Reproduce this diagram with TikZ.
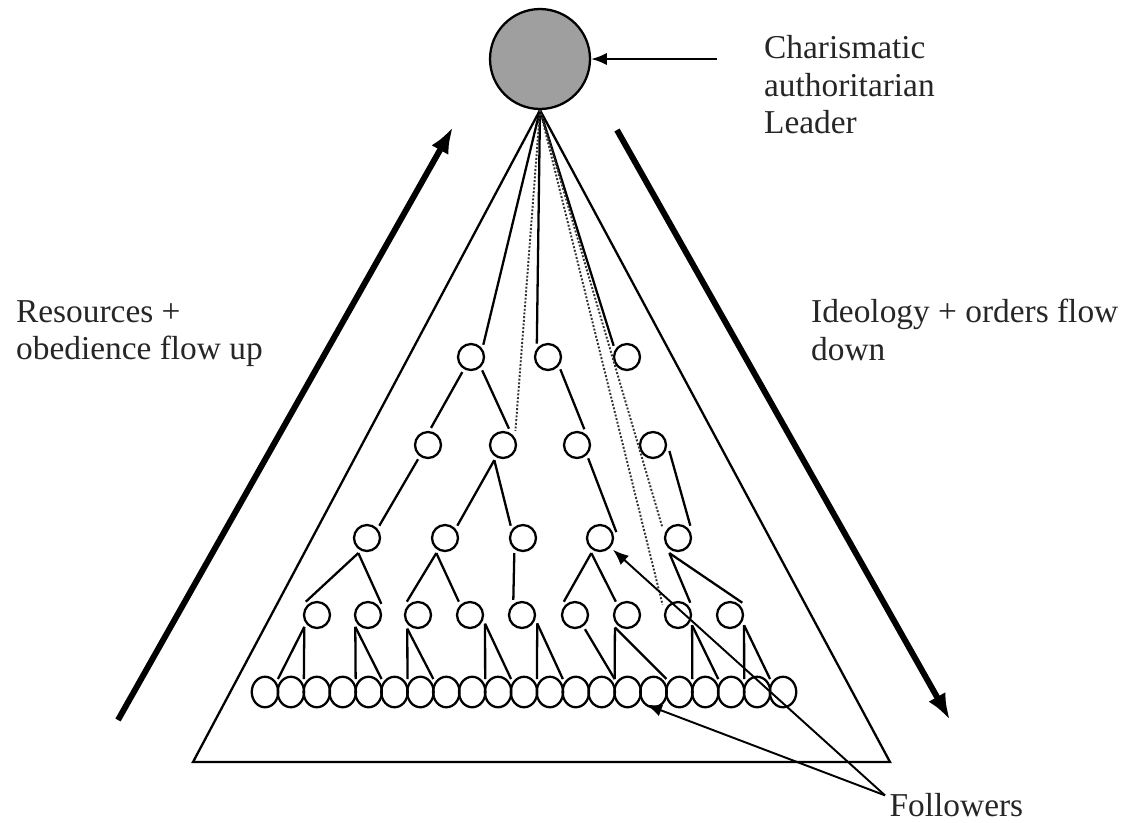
\documentclass[tikz,border=0pt]{standalone}
\usepackage{fontspec}
\setmainfont{Liberation Serif}
\usetikzlibrary{arrows.meta,shapes.geometric}

\begin{document}
\begin{tikzpicture}
      [x=0.02cm, y=-0.02cm,
      line width=1.3pt,
      leader style/.style={draw, circle, minimum size=2cm, inner sep=0pt, fill=gray!75},
      member style/.style={draw, circle, minimum size=0.52cm, inner sep=0pt, outer sep=2.5pt},
      follower style/.style={draw, ellipse, minimum width=0.53cm, minimum height=0.61cm, inner sep=0pt, outer sep=0pt},
      hidden tie/.style={densely dotted, line width=1.1pt, black!80, shorten >=1pt},
      pointer/.style={-{Latex[length=9pt, width=7pt]}, line width=1.1pt},
      flow/.style={-{Latex[length=15pt, width=11pt]}, line width=3.4pt},
      note style/.style={align=left, inner sep=0pt, anchor=north west, text=black!85, font=\fontsize{19}{21.5}\selectfont}
      ]
    \useasboundingbox (0,0) rectangle (1135,822);

    % leader and texts
    \node[leader style] (leader) at (540,59) {};
    \node[note style] (chief) at (763,34) {Charismatic\\authoritarian\\Leader};
    \node[note style] (upflow) at (15,299) {Resources +\\obedience flow up};
    \node[note style] (downflow) at (810,298) {Ideology + orders flow\\down};
    \node[note style, inner sep=2pt] (flock) at (885,789) {Followers};
    \coordinate (chieftail) at (717,59);
    \draw[pointer] (chieftail) -- (leader.east);

    % flows
    \draw[flow] (118,720) -- (453,127);
    \draw[flow] (617,130) -- (950,720);

    % the pyramid
    \coordinate (baseL) at (193,762);
    \coordinate (baseR) at (890,762);
    \draw (leader.south) -- (baseL) -- (baseR) -- cycle;

    % ranks
    \node[member style] (l1a) at (471,357) {};
    \node[member style] (l1b) at (548,357) {};
    \node[member style] (l1c) at (627,357) {};
    \node[member style] (l2a) at (428,445) {};
    \node[member style] (l2b) at (503,445) {};
    \node[member style] (l2c) at (577,445) {};
    \node[member style] (l2d) at (653,445) {};
    \node[member style] (l3a) at (367,538) {};
    \node[member style] (l3b) at (445,538) {};
    \node[member style] (l3c) at (523,538) {};
    \node[member style] (l3d) at (600,538) {};
    \node[member style] (l3e) at (678,538) {};
    \node[member style] (l4a) at (317,615) {};
    \node[member style] (l4b) at (368,615) {};
    \node[member style] (l4c) at (418,615) {};
    \node[member style] (l4d) at (470,615) {};
    \node[member style] (l4e) at (522,615) {};
    \node[member style] (l4f) at (575,615) {};
    \node[member style] (l4g) at (627,615) {};
    \node[member style] (l4h) at (678,615) {};
    \node[member style] (l4i) at (730,615) {};

    % followers
    \foreach \i in {0,...,20}
      \node[follower style] (f\i) at ({265+25.9*\i},692) {};
    \foreach \i in {0,...,19}
      \coordinate (notch\i) at ({277.95+25.9*\i},679);

    % leader to ranks
    \draw (leader.south) -- (l1a.45);
    \draw (leader.south) -- (l1b.130);
    \draw (leader.south) -- (l1c.140);
    \draw[hidden tie] (leader.south) -- (l2b.45);
    \draw[hidden tie] (leader.south) -- (l3e.150);
    \draw[hidden tie] (leader.south) -- (l4h.150);

    \draw (l1a.240) -- (l2a.80);
    \draw (l1a.310) -- (l2b.70);
    \draw (l1b.315) -- (l2c.65);

    \draw (l2a.235) -- (l3a.45);
    \draw (l2b.240) -- (l3b.45);
    \draw (l2b.240) -- (l3c.135);
    \draw (l2c.310) -- (l3d.20);
    \draw (l2d.340) -- (l3e.45);

    \draw (l3a.240) -- (l4a.130);
    \draw (l3a.240) -- (l4b.40);
    \draw (l3b.240) -- (l4c.130);
    \draw (l3b.240) -- (l4d.130);
    \draw (l3c.240) -- (l4e.120);
    \draw (l3d.240) -- (l4f.130);
    \draw (l3d.240) -- (l4g.130);
    \draw (l3e.240) -- (l4h.45);
    \draw (l3e.240) -- (l4i.45);

    % lowest rank to followers
    \draw (l4a.223) -- (notch1);
    \draw (l4a.223) -- (notch0);
    \draw (l4b.223) -- (notch3);
    \draw (l4b.223) -- (notch4);
    \draw (l4c.232) -- (notch5);
    \draw (l4c.232) -- (notch6);
    \draw (l4d.330) -- (notch8);
    \draw (l4d.330) -- (notch9);
    \draw (l4e.331) -- (notch10);
    \draw (l4e.331) -- (notch11);
    \draw (l4f.305) -- (notch13);
    \draw (l4g.226) -- (notch13);
    \draw (l4g.226) -- (notch15);
    \draw (l4h.324) -- (notch16);
    \draw (l4h.324) -- (notch17);
    \draw (l4i.324) -- (notch18);
    \draw (l4i.324) -- (notch19);

    % followers pointers
    \draw[pointer] (flock.172) -- (f15.240);
    \draw[pointer] (flock.172) -- (l3d.318);
\end{tikzpicture}
\end{document}
